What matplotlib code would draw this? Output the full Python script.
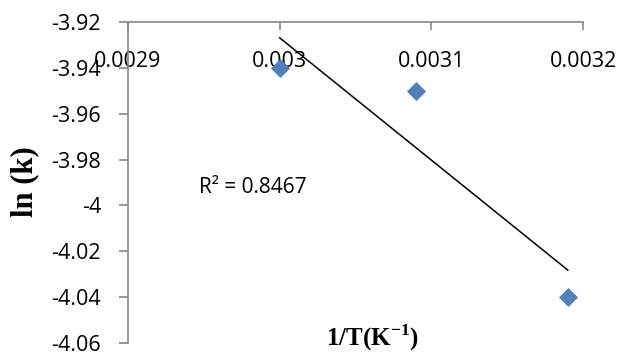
import matplotlib
matplotlib.use("Agg")
import matplotlib.pyplot as plt
import numpy as np

# data
inv_T = [0.00300, 0.00309, 0.00319]
ln_k = [-3.94, -3.95, -4.04]
x_ticks = [0.0029, 0.0030, 0.0031, 0.0032]
x_tick_labels = ["0.0029", "0.003", "0.0031", "0.0032"]
y_ticks = [-4.06, -4.04, -4.02, -4.00, -3.98, -3.96, -3.94, -3.92]
y_tick_labels = ["-4.06", "-4.04", "-4.02", "-4", "-3.98", "-3.96", "-3.94", "-3.92"]

plt.rcParams['mathtext.fontset'] = 'custom'
plt.rcParams['mathtext.rm'] = 'Liberation Serif'
plt.rcParams['mathtext.bf'] = 'Liberation Serif:bold'

fig = plt.figure(figsize=(6.22, 3.57), dpi=100)
ax = fig.add_axes([0.2058, 0.0392, 0.7315, 0.8992])

ax.scatter(inv_T, ln_k, marker='D', s=95, color='#4F81BD', zorder=3, linewidths=0)

# linear trendline
slope, intercept = np.polyfit(inv_T, ln_k, 1)
fit = np.polyval([slope, intercept], inv_T)
r2 = 1 - np.sum((np.array(ln_k) - fit) ** 2) / np.sum((np.array(ln_k) - np.mean(ln_k)) ** 2)
xs = np.array([min(inv_T), max(inv_T)])
ax.plot(xs, slope * xs + intercept, color='black', lw=1.1, zorder=2)

ax.set_xlim(0.0029, 0.0032)
ax.set_ylim(-4.06, -3.92)

ax.spines['top'].set_visible(False)
ax.spines['right'].set_visible(False)
ax.spines['bottom'].set_position(('data', -3.92))
for s in ['left', 'bottom']:
    ax.spines[s].set_color('#868686')
    ax.spines[s].set_linewidth(1.2)

ax.set_xticks(x_ticks)
ax.set_xticklabels(x_tick_labels, fontfamily='Open Sans', fontsize=15.5)
ax.set_yticks(y_ticks)
ax.set_yticklabels(y_tick_labels, fontfamily='Open Sans', fontsize=15.5)
ax.tick_params(axis='x', direction='out', length=6, width=1.2, color='#868686', pad=15)
ax.tick_params(axis='y', direction='out', length=6.5, width=1.2, color='#868686', pad=13)

ax.text(0.0029825, -3.992, f"R\u00b2 = {r2:.4f}", fontfamily='Open Sans', fontsize=15,
        ha='center', va='center')

fig.text(0.039, 0.49, "ln (k)", rotation=90, fontfamily='Liberation Serif',
         fontweight='bold', fontsize=22, ha='center', va='center')
fig.text(0.598, 0.053, r'$\mathbf{1/T(K}^{\mathbf{-1}}\mathbf{)}$', fontsize=18,
         ha='center', va='center')

fig.savefig("out.png", dpi=100)
